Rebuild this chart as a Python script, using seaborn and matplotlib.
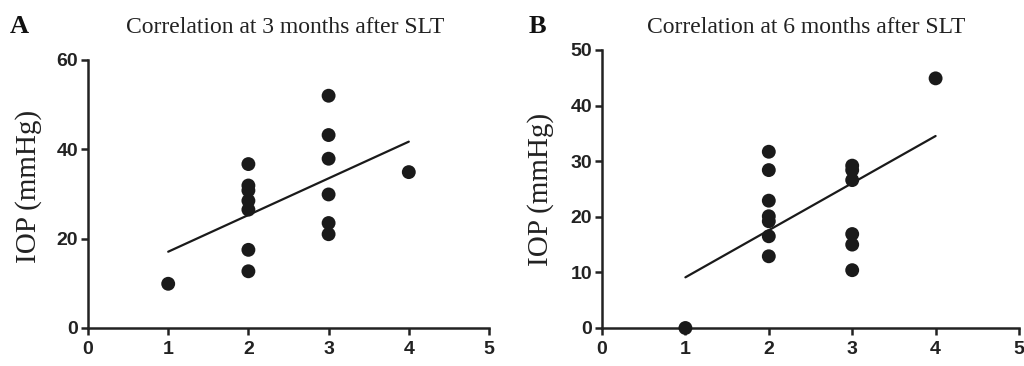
import matplotlib
matplotlib.use("Agg")
import matplotlib.pyplot as plt
import seaborn as sns
import numpy as np
import pandas as pd

# Panel A data: 3 months after SLT
x_a = [1, 2, 2, 2, 2, 2, 2, 2, 3, 3, 3, 3, 3, 3, 4]
y_a = [9.9, 36.7, 31.9, 30.8, 28.5, 26.5, 17.5, 12.7, 52.0, 43.2, 37.9, 29.9, 23.5, 21.0, 34.9]
# Panel B data: 6 months after SLT
x_b = [1, 2, 2, 2, 2, 2, 2, 2, 3, 3, 3, 3, 3, 3, 4]
y_b = [0.0, 31.7, 28.4, 22.9, 20.1, 19.2, 16.5, 12.9, 29.2, 28.4, 26.6, 16.9, 15.0, 10.4, 44.9]

titles = ["Correlation at 3 months after SLT", "Correlation at 6 months after SLT"]
letters = ["A", "B"]
ylabel = "IOP (mmHg)"
xticks = [0, 1, 2, 3, 4, 5]
yticks_a = [0, 20, 40, 60]
yticks_b = [0, 10, 20, 30, 40, 50]

sns.set_style("ticks")
plt.rcParams['font.family'] = ['Liberation Sans', 'DejaVu Sans']

fig = plt.figure(figsize=(10.24, 3.66), dpi=100)
ax_a = fig.add_axes([88/1024, 1-328/366, 401/1024, 268/366])
ax_b = fig.add_axes([602/1024, 1-328/366, 417/1024, 278/366])

dark = "#1a1a1a"
specs = [
    (ax_a, x_a, y_a, yticks_a, 60, 0.53, 123+162, 10),
    (ax_b, x_b, y_b, yticks_b, 50, 0.5, 644+162, 529),
]
for i, (ax, xs, ys, yt, ymax, ly, tx, lx) in enumerate(specs):
    df = pd.DataFrame({"x": xs, "y": ys})
    sns.regplot(data=df, x="x", y="y", ax=ax, ci=None, truncate=True,
                scatter_kws=dict(s=100, color=dark, edgecolor="none", alpha=1, clip_on=False, zorder=3),
                line_kws=dict(color=dark, lw=1.6))
    ax.set_xlim(0, 5)
    ax.set_ylim(0, ymax)
    ax.set_xticks(xticks)
    ax.set_yticks(yt)
    for sp in ["top", "right"]:
        ax.spines[sp].set_visible(False)
    for sp in ["left", "bottom"]:
        ax.spines[sp].set_linewidth(1.8)
        ax.spines[sp].set_color("#222222")
    ax.tick_params(direction="out", length=5, width=1.8, color="#222222",
                   labelsize=14, labelcolor="#222222")
    ax.tick_params(axis="y", pad=2)
    ax.tick_params(axis="x", pad=4)
    for lab in ax.get_xticklabels() + ax.get_yticklabels():
        lab.set_fontweight("bold")
    ax.set_xlabel("")
    ax.set_ylabel(ylabel, fontsize=21, family=["Liberation Serif"], color="#222222")
    ax.yaxis.set_label_coords(-0.115, ly)
    fig.text(tx/1024, 1-33/366, titles[i], ha="center", va="baseline",
             fontsize=17, family=["Liberation Serif"], color="#222222")
    fig.text(lx/1024, 1-33/366, letters[i], ha="left", va="baseline",
             fontsize=19, fontweight="bold", family=["Liberation Serif"], color="#111111")

fig.savefig("out.png", dpi=100)
